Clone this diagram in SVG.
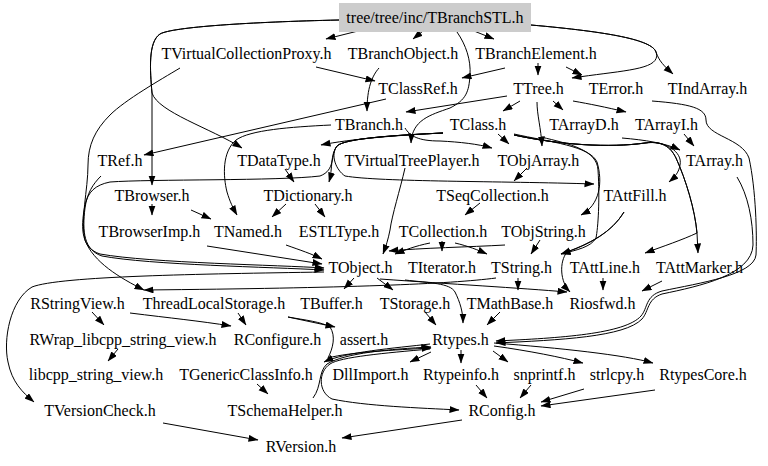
<svg xmlns="http://www.w3.org/2000/svg" width="768" height="466" viewBox="0 0 768 466">
<style>
.node text{font-family:'Liberation Serif','Times New Roman','DejaVu Serif',serif;font-size:16px;text-anchor:middle;fill:#000}
.edges path{fill:none;stroke:#000;stroke-width:1;marker-end:url(#ah)}
</style>
<defs>
<marker id="ah" markerUnits="userSpaceOnUse" markerWidth="10" markerHeight="8" refX="9.5" refY="3.5" orient="auto"><path d="M0,0 L10,3.5 L0,7 z" fill="#000"/></marker>
</defs>
<rect width="768" height="466" fill="#fff"/>
<g class="edges" id="edges">
<path d="M358,31 L326,39"/>
<path d="M423,31 L413,39"/>
<path d="M474,31 L494,39"/>
<path d="M339,20 C250,22 172,27 160,34 C148,42 150,70 152,93 C158,112 210,128 242,148"/>
<path d="M339,20 C250,22 172,27 160,34 C148,42 150,70 152,93 L152,185"/>
<path d="M531,25 C610,32 652,40 656,52 C659,61 664,66 673,74"/>
<path d="M531,25 C610,32 652,40 656,52 C662,70 625,70 572,78"/>
<path d="M457,32 C466,45 471,60 470,75 C469,92 466,100 450,108 C430,115 412,120 411,143"/>
<path d="M316,67 L375,81"/>
<path d="M379,68 C372,76 367,88 367,111"/>
<path d="M386,99 L144,155"/>
<path d="M505,68 L462,78"/>
<path d="M538,63 L538,75"/>
<path d="M566,67 L582,75"/>
<path d="M507,96 L406,112"/>
<path d="M520,101 L503,111"/>
<path d="M553,101 L563,110"/>
<path d="M573,101 C590,104 605,107 626,112"/>
<path d="M537,102 C537,115 541,128 542,146"/>
<path d="M331,125 C290,127 250,130 236,140 C222,152 223,176 227,192 C230,202 233,208 237,215"/>
<path d="M405,128 C410,136 418,141 440,141 C460,142 478,144 492,148"/>
<path d="M443,133 C400,135 350,139 321,145"/>
<path d="M443,133 C400,135 345,138 337,146 C330,155 333,168 329,182"/>
<path d="M443,133 C400,135 345,138 337,146 C330,155 336,170 320,176 C280,181 150,179 110,182 C95,185 88,192 85,205 C80,230 82,248 100,254 C150,263 280,265 324,268"/>
<path d="M443,133 C400,135 345,138 337,146 C330,155 336,170 345,176 C380,182 500,181 594,184"/>
<path d="M498,134 L509,144"/>
<path d="M514,134 C550,142 590,146 597,162 C603,182 600,205 581,215"/>
<path d="M622,138 C645,140 665,143 680,150"/>
<path d="M684,134 L694,146"/>
<path d="M514,135 C560,145 610,148 645,143 C665,140 683,152 680,165 C679,172 675,177 669,182"/>
<path d="M514,135 C560,145 610,148 645,143 C665,140 672,150 676,158 C686,180 695,210 697,233 C682,240 664,246 645,253"/>
<path d="M514,135 C560,145 610,148 645,143 C665,140 672,150 676,158 C686,180 695,210 697,233 L698,253"/>
<path d="M541,137 C570,144 597,150 598,170 C600,200 598,228 596,238 C591,247 577,250 561,254"/>
<path d="M624,212 C612,232 590,244 561,254"/>
<path d="M624,212 C612,232 590,244 567,252 C559,262 560,282 570,292"/>
<path d="M652,101 C690,104 706,108 706,120 C706,136 742,138 749,158 C756,190 757,235 756,255 C754,275 700,283 662,291 C645,296 648,308 641,316 C625,334 560,338 496,341"/>
<path d="M737,177 C748,195 753,220 753,245 C752,275 700,286 662,294 C647,299 649,311 642,319 C625,337 560,340 496,343"/>
<path d="M603,278 L603,290"/>
<path d="M662,281 L642,291"/>
<path d="M405,168 C400,190 392,215 390,230 C388,240 386,246 383,254"/>
<path d="M527,168 L514,181"/>
<path d="M480,203 L465,215"/>
<path d="M540,240 L531,254"/>
<path d="M430,243 C415,246 405,250 395,254"/>
<path d="M442,241 L442,251"/>
<path d="M455,243 C468,246 478,250 487,254"/>
<path d="M505,245 C470,247 420,248 389,251"/>
<path d="M286,245 C300,250 312,254 322,259"/>
<path d="M207,246 L322,264"/>
<path d="M152,204 L152,215"/>
<path d="M191,210 L211,219"/>
<path d="M286,204 L272,217"/>
<path d="M315,204 L325,217"/>
<path d="M285,169 L294,182"/>
<path d="M180,68 C160,80 125,100 110,115 C95,130 88,145 88,165 C88,190 80,220 85,240 C93,262 120,278 144,290"/>
<path d="M101,176 C93,184 87,193 85,208 C82,232 84,250 102,256 C150,265 270,267 324,270"/>
<path d="M324,272 C200,274 60,276 32,287 C10,300 3,340 8,362 C12,382 22,392 34,402"/>
<path d="M354,278 L344,289"/>
<path d="M377,278 L393,290"/>
<path d="M496,278 C450,284 350,288 144,290"/>
<path d="M518,278 L518,290"/>
<path d="M380,279 C450,284 520,288 567,292"/>
<path d="M405,280 C430,283 450,283 455,292 C460,302 463,312 463,323"/>
<path d="M425,312 L436,325"/>
<path d="M500,312 L487,325"/>
<path d="M92,312 L104,325"/>
<path d="M238,313 L246,325"/>
<path d="M130,313 C170,318 200,321 231,326"/>
<path d="M288,317 L335,327"/>
<path d="M288,317 C305,320 322,322 330,327 C336,336 333,348 328,358 C350,352 395,350 431,348"/>
<path d="M430,344 C395,348 345,352 324,362"/>
<path d="M313,398 C322,386 318,372 327,364 C345,353 390,349 431,347"/>
<path d="M430,349 C385,353 340,357 330,364 C318,372 318,392 332,399 C365,406 420,408 459,410"/>
<path d="M431,352 L410,362"/>
<path d="M461,350 L461,363"/>
<path d="M493,351 L508,362"/>
<path d="M494,346 C530,351 560,357 583,363"/>
<path d="M494,343 C560,348 625,355 653,363"/>
<path d="M257,384 L268,394"/>
<path d="M118,349 L108,361"/>
<path d="M476,385 L487,398"/>
<path d="M531,385 L520,398"/>
<path d="M584,389 L541,402"/>
<path d="M655,390 L541,406"/>
<path d="M163,423 L258,440"/>
<path d="M462,420 L342,438"/>
</g>
<g class="node" id="n_TBranchSTL"><rect x="339" y="3" width="192" height="29" fill="#cccccc"/><text x="435" y="23">tree/tree/inc/TBranchSTL.h</text></g>
<g class="node" id="n_TVirtualCollectionProxy"><text x="246.5" y="58.5">TVirtualCollectionProxy.h</text></g>
<g class="node" id="n_TBranchObject"><text x="403" y="58.5">TBranchObject.h</text></g>
<g class="node" id="n_TBranchElement"><text x="536" y="58.5">TBranchElement.h</text></g>
<g class="node" id="n_TClassRef"><text x="418" y="94.2">TClassRef.h</text></g>
<g class="node" id="n_TTree"><text x="538.5" y="94.2">TTree.h</text></g>
<g class="node" id="n_TError"><text x="616" y="94.2">TError.h</text></g>
<g class="node" id="n_TIndArray"><text x="707.5" y="94.2">TIndArray.h</text></g>
<g class="node" id="n_TBranch"><text x="369" y="130">TBranch.h</text></g>
<g class="node" id="n_TClass"><text x="478" y="130">TClass.h</text></g>
<g class="node" id="n_TArrayD"><text x="584" y="130">TArrayD.h</text></g>
<g class="node" id="n_TArrayI"><text x="666.5" y="130">TArrayI.h</text></g>
<g class="node" id="n_TRef"><text x="120" y="165.7">TRef.h</text></g>
<g class="node" id="n_TDataType"><text x="279" y="165.7">TDataType.h</text></g>
<g class="node" id="n_TVirtualTreePlayer"><text x="412" y="165.7">TVirtualTreePlayer.h</text></g>
<g class="node" id="n_TObjArray"><text x="538.5" y="165.7">TObjArray.h</text></g>
<g class="node" id="n_TArray"><text x="714.5" y="165.7">TArray.h</text></g>
<g class="node" id="n_TBrowser"><text x="152" y="201.4">TBrowser.h</text></g>
<g class="node" id="n_TDictionary"><text x="308" y="201.4">TDictionary.h</text></g>
<g class="node" id="n_TSeqCollection"><text x="492.5" y="201.4">TSeqCollection.h</text></g>
<g class="node" id="n_TAttFill"><text x="635" y="201.4">TAttFill.h</text></g>
<g class="node" id="n_TBrowserImp"><text x="149.5" y="237.2">TBrowserImp.h</text></g>
<g class="node" id="n_TNamed"><text x="248" y="237.2">TNamed.h</text></g>
<g class="node" id="n_ESTLType"><text x="339" y="237.2">ESTLType.h</text></g>
<g class="node" id="n_TCollection"><text x="443" y="237.2">TCollection.h</text></g>
<g class="node" id="n_TObjString"><text x="543.5" y="237.2">TObjString.h</text></g>
<g class="node" id="n_TObject"><text x="360.5" y="273">TObject.h</text></g>
<g class="node" id="n_TIterator"><text x="442" y="273">TIterator.h</text></g>
<g class="node" id="n_TString"><text x="521.5" y="273">TString.h</text></g>
<g class="node" id="n_TAttLine"><text x="605" y="273">TAttLine.h</text></g>
<g class="node" id="n_TAttMarker"><text x="699.5" y="273">TAttMarker.h</text></g>
<g class="node" id="n_RStringView"><text x="77.5" y="308.7">RStringView.h</text></g>
<g class="node" id="n_ThreadLocalStorage"><text x="214" y="308.7">ThreadLocalStorage.h</text></g>
<g class="node" id="n_TBuffer"><text x="331.5" y="308.7">TBuffer.h</text></g>
<g class="node" id="n_TStorage"><text x="415" y="308.7">TStorage.h</text></g>
<g class="node" id="n_TMathBase"><text x="510" y="308.7">TMathBase.h</text></g>
<g class="node" id="n_Riosfwd"><text x="602.5" y="308.7">Riosfwd.h</text></g>
<g class="node" id="n_RWrap"><text x="123" y="344.5">RWrap_libcpp_string_view.h</text></g>
<g class="node" id="n_RConfigure"><text x="277.5" y="344.5">RConfigure.h</text></g>
<g class="node" id="n_assert"><text x="364" y="344.5">assert.h</text></g>
<g class="node" id="n_Rtypes"><text x="460.5" y="344.5">Rtypes.h</text></g>
<g class="node" id="n_libcpp"><text x="96" y="380.2">libcpp_string_view.h</text></g>
<g class="node" id="n_TGenericClassInfo"><text x="246" y="380.2">TGenericClassInfo.h</text></g>
<g class="node" id="n_DllImport"><text x="370.5" y="380.2">DllImport.h</text></g>
<g class="node" id="n_Rtypeinfo"><text x="461" y="380.2">Rtypeinfo.h</text></g>
<g class="node" id="n_snprintf"><text x="544.5" y="380.2">snprintf.h</text></g>
<g class="node" id="n_strlcpy"><text x="617" y="380.2">strlcpy.h</text></g>
<g class="node" id="n_RtypesCore"><text x="703" y="380.2">RtypesCore.h</text></g>
<g class="node" id="n_TVersionCheck"><text x="100" y="416">TVersionCheck.h</text></g>
<g class="node" id="n_TSchemaHelper"><text x="285" y="416">TSchemaHelper.h</text></g>
<g class="node" id="n_RConfig"><text x="502" y="416">RConfig.h</text></g>
<g class="node" id="n_RVersion"><text x="301" y="451.7">RVersion.h</text></g>
</svg>
